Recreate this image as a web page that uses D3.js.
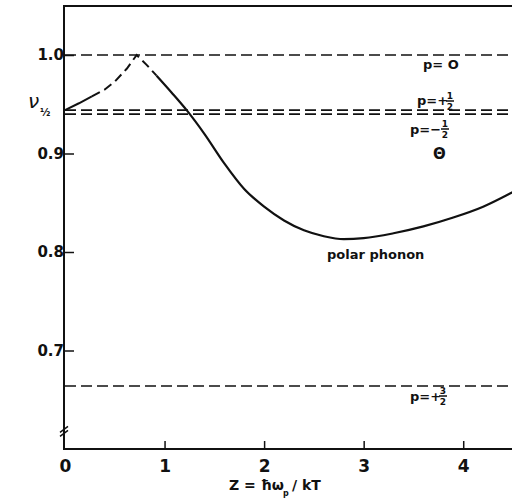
<!DOCTYPE html>
<html>
<head>
<meta charset="utf-8">
<script src="https://cdnjs.cloudflare.com/ajax/libs/d3/7.8.5/d3.min.js"></script>
<style>
  body { margin: 0; background: #fff; }
  text { font-family: "DejaVu Sans", sans-serif; font-weight: bold; fill: #111; }
</style>
</head>
<body>
<svg id="chart" width="512" height="498"></svg>
<script>
// data
const xTicks = [0, 1, 2, 3, 4];
const yTicks = [0.7, 0.8, 0.9, 1.0];
const yTickLabels = ["0.7", "0.8", "0.9", "1.0"];

// horizontal reference levels (dashed)
const levelNames = ["p=0", "p=+1/2", "p=-1/2", "p=+3/2"];
const levelValues = [1.0, 0.944, 0.940, 0.664];

// polar phonon curve, split where the drawing is dashed
const riseZ = [0, 0.14, 0.27];
const riseV = [0.944, 0.951, 0.958];
const peakZ = [0.27, 0.40, 0.50, 0.62, 0.72, 0.82, 0.92];
const peakV = [0.958, 0.965, 0.973, 0.986, 1.0, 0.990, 0.979];
const fallZ = [0.92, 1.07, 1.23, 1.40, 1.60, 1.80, 2.00, 2.20, 2.40, 2.60, 2.80, 3.00, 3.30, 3.60, 3.90, 4.20, 4.50];
const fallV = [0.979, 0.962, 0.943, 0.920, 0.890, 0.864, 0.846, 0.832, 0.822, 0.816, 0.813, 0.814, 0.819, 0.826, 0.835, 0.846, 0.861];

let svg = d3.select("#chart");
let width = +svg.attr("width");
let height = +svg.attr("height");
let margin = { top: 6, right: 0, bottom: 49, left: 65 };

const x = d3.scaleLinear().domain([0, 4.49]).range([margin.left, width - margin.right]);
const y = d3.scaleLinear().domain([0.6, 1.0]).range([height - margin.bottom, 55]);

// frame: left and top
svg.append("line").attr("x1", 64).attr("x2", 64).attr("y1", margin.top).attr("y2", height - margin.bottom)
    .attr("stroke", "#111").attr("stroke-width", 2);
svg.append("line").attr("x1", 63).attr("x2", width).attr("y1", margin.top).attr("y2", margin.top)
    .attr("stroke", "#111").attr("stroke-width", 2);

// x axis (ticks pointing up)
const xAxis = d3.axisBottom(x).tickValues(xTicks).tickFormat(d3.format("d")).tickSize(-8).tickPadding(11);
const gx = svg.append("g").attr("transform", "translate(0," + (height - margin.bottom) + ")").call(xAxis);
gx.select(".domain").attr("d", "M63,0H" + width).attr("stroke", "#111").attr("stroke-width", 2);
gx.selectAll(".tick line").attr("stroke", "#111").attr("stroke-width", 1.5);
gx.selectAll(".tick text").style("font-size", "17px").attr("fill", "#111");
gx.selectAll(".tick").filter(d => d === 0).select("line").remove();

// y axis (ticks pointing right)
const yAxis = d3.axisLeft(y).tickValues(yTicks).tickFormat((d, i) => yTickLabels[i]).tickSize(-10).tickPadding(4);
const gy = svg.append("g").attr("transform", "translate(64,0)").call(yAxis);
gy.select(".domain").remove();
gy.selectAll(".tick line").attr("stroke", "#111").attr("stroke-width", 1.5);
gy.selectAll(".tick text").style("font-size", "15px").attr("fill", "#111").attr("x", 0);

// axis break mark
const yb = y(0.62);
svg.append("path")
    .attr("d", "M60," + (yb + 3) + "L68," + (yb - 3) + "M60," + (yb + 7) + "L68," + (yb + 1))
    .attr("stroke", "#111").attr("stroke-width", 1.5).attr("fill", "none");

// dashed reference levels
svg.selectAll(".level").data(levelValues).enter()
    .append("line")
    .attr("class", "level")
    .attr("x1", 65).attr("x2", width)
    .attr("y1", d => y(d)).attr("y2", d => y(d))
    .attr("stroke", "#111").attr("stroke-width", 1.6)
    .attr("stroke-dasharray", "11,5");

// curve
const line = d3.line().x(d => x(d[0])).y(d => y(d[1]));
svg.append("path").datum(d3.zip(riseZ, riseV))
    .attr("d", line.curve(d3.curveLinear)).attr("fill", "none")
    .attr("stroke", "#111").attr("stroke-width", 2);
svg.append("path").datum(d3.zip(peakZ, peakV))
    .attr("d", line.curve(d3.curveLinear)).attr("fill", "none")
    .attr("stroke", "#111").attr("stroke-width", 2).attr("stroke-dasharray", "9,5");
svg.append("path").datum(d3.zip(fallZ, fallV))
    .attr("d", line.curve(d3.curveMonotoneX)).attr("fill", "none")
    .attr("stroke", "#111").attr("stroke-width", 2.2);

// labels
function label(txt, lx, ly, size) {
  return svg.append("text").attr("x", lx).attr("y", ly).style("font-size", (size || 13) + "px").text(txt);
}
function frac(lx, ly, num) {
  const g = svg.append("g");
  g.append("text").attr("x", lx).attr("y", ly - 6).attr("text-anchor", "middle").style("font-size", "9px").text(num);
  g.append("line").attr("x1", lx - 4).attr("x2", lx + 4).attr("y1", ly - 4).attr("y2", ly - 4)
      .attr("stroke", "#111").attr("stroke-width", 1.5);
  g.append("text").attr("x", lx).attr("y", ly + 5).attr("text-anchor", "middle").style("font-size", "9px").text("2");
}
label("p= O", 423, 69);
label("p=+", 417, 105); frac(450, 105, "1");
label("p=−", 410, 134); frac(445, 133, "1");
label("Θ", 433, 159, 15);
label("polar   phonon", 327, 259, 13);
label("p=+", 410, 401); frac(443, 400, "3");

// y label  ν½
svg.append("text").attr("x", 28).attr("y", 108).style("font-size", "20px")
    .style("font-style", "italic").style("font-weight", "normal").text("ν");
svg.append("text").attr("x", 40).attr("y", 116).style("font-size", "10px").text("½");

// x label
svg.append("text").attr("x", 229).attr("y", 490).style("font-size", "14px").text("Z = ħω");
svg.append("text").attr("x", 283).attr("y", 496).style("font-size", "8px").text("p");
svg.append("text").attr("x", 292).attr("y", 490).style("font-size", "14px").text("/ kT");
</script>
</body>
</html>
